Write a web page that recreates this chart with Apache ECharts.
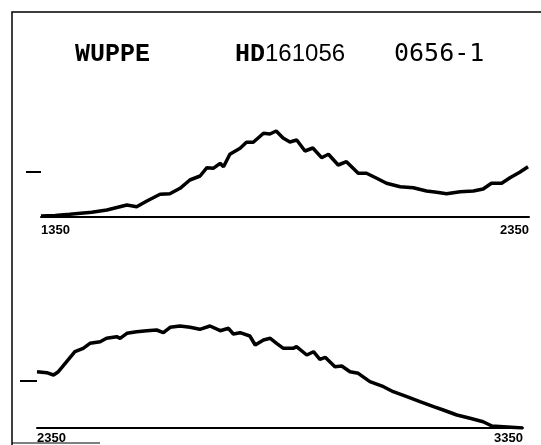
<!DOCTYPE html>
<html>
<head>
<meta charset="utf-8">
<script src="https://cdn.jsdelivr.net/npm/echarts@6/dist/echarts.min.js"></script>
<style>
  html, body { margin: 0; padding: 0; background: #fff; }
  #chart { width: 541px; height: 445px; }
</style>
</head>
<body>
<div id="chart"></div>
<script>
// 上图 1350-2350
let topX = [1350, 1379, 1409, 1454, 1485, 1526, 1546, 1567, 1594, 1614, 1635, 1655, 1676, 1690, 1703, 1717, 1724,
    1737, 1758, 1771, 1785, 1806, 1819, 1832, 1846, 1860, 1874, 1891, 1907, 1925, 1939, 1959, 1976, 2000, 2017,
    2038, 2058, 2086, 2113, 2140, 2161, 2181, 2209, 2236, 2256, 2273, 2294, 2311, 2331, 2348];
let topY = [1, 1.5, 2.7, 4.7, 7, 12, 10.3, 16, 22.7, 23.3, 28.7, 37, 41, 49.3, 48.7, 53.7, 50.3,
    62.7, 68.7, 74.7, 74.7, 83.7, 83, 86, 79, 75, 77, 66, 69, 59.3, 62.7, 52, 55.3, 43.7, 43.7,
    38.7, 33.7, 30.3, 29.3, 26, 24.7, 23.3, 25.3, 26, 28, 33.7, 33.7, 39.3, 44.7, 50.3];
// 下图 2350-3350
let botX = [2350, 2370, 2384, 2394, 2411, 2428, 2445, 2459, 2480, 2493, 2514, 2521, 2535, 2555, 2576, 2596, 2610,
    2624, 2644, 2665, 2685, 2706, 2727, 2744, 2754, 2768, 2788, 2799, 2816, 2830, 2843, 2857, 2877, 2884, 2905,
    2919, 2932, 2943, 2963, 2977, 2994, 3011, 3035, 3063, 3083, 3111, 3138, 3166, 3186, 3214, 3241, 3268, 3286,
    3290, 3350];
let botY = [56.3, 55.3, 53, 56.3, 66.3, 76.3, 79.7, 84.7, 86.3, 89.7, 91.3, 89.7, 94.7, 96.3, 97.3, 98, 95.3,
    100.7, 102, 100.7, 98.7, 102, 97.3, 99.7, 94, 95.3, 92, 83, 88, 89.7, 84.7, 79.7, 79.7, 81.3, 73,
    76.3, 68.7, 70.7, 61.3, 62, 56.3, 54.7, 46.3, 41.3, 36.3, 31.3, 26.3, 21.3, 18, 13, 9.7, 6.3, 2,
    0, 0];
let topTicks = [1350, 2350];
let botTicks = [2350, 3350];
let topMark = [45];
let botMark = [47];

function pairs(xs, ys) {
    return xs.map((v, i) => [v, ys[i]]);
}

let myChart = echarts.init(document.getElementById('chart'));

let xBase = {
    type: 'value',
    axisLine: { lineStyle: { color: '#000', width: 2 } },
    axisTick: { show: false },
    splitLine: { show: false },
    axisLabel: {
        color: '#000',
        fontFamily: 'Liberation Sans',
        fontWeight: 'bold',
        fontSize: 13,
        alignMinLabel: 'left',
        alignMaxLabel: 'right',
        formatter: function (v) { return String(v); } // 不要千分位逗号
    }
};

let option = {
    backgroundColor: '#fff',
    animation: false,
    title: [
        {
            text: 'WUPPE',
            left: 70, top: 37,
            textStyle: { fontFamily: 'Liberation Mono', fontWeight: 'bold', fontSize: 25, color: '#000' }
        },
        {
            text: '{a|HD}{b|161056}',
            left: 230, top: 37,
            textStyle: {
                rich: {
                    a: { fontFamily: 'Liberation Mono', fontWeight: 'bold', fontSize: 25, color: '#000' },
                    b: { fontFamily: 'Liberation Sans', fontWeight: 'normal', fontSize: 24, color: '#000' }
                }
            }
        },
        {
            text: '0656-1',
            left: 389, top: 37,
            textStyle: { fontFamily: 'DejaVu Sans Mono', fontWeight: 'normal', fontSize: 25, color: '#000' }
        }
    ],
    graphic: [
        {
            // 外框
            type: 'rect',
            shape: { x: 12, y: 12, width: 540, height: 440 },
            style: { fill: 'none', stroke: '#000', lineWidth: 1.5 }
        },
        {
            type: 'line',
            shape: { x1: 12, y1: 443, x2: 100, y2: 443 },
            style: { stroke: '#000', lineWidth: 1 }
        }
    ],
    grid: [
        { left: 41, right: 12, top: 117, height: 100 },
        { left: 37, right: 18, top: 308, height: 120 }
    ],
    xAxis: [
        Object.assign({}, xBase, {
            gridIndex: 0, min: 1350, max: 2350,
            axisLabel: Object.assign({}, xBase.axisLabel, { margin: 7, customValues: topTicks })
        }),
        Object.assign({}, xBase, {
            gridIndex: 1, min: 2350, max: 3350,
            axisLabel: Object.assign({}, xBase.axisLabel, { margin: 4, customValues: botTicks })
        })
    ],
    yAxis: [
        {
            type: 'value', gridIndex: 0, min: 0, max: 100,
            axisLine: { show: false },
            splitLine: { show: false },
            axisLabel: { show: false },
            axisTick: { show: true, length: 15, customValues: topMark, lineStyle: { color: '#000', width: 2 } }
        },
        {
            type: 'value', gridIndex: 1, min: 0, max: 120,
            axisLine: { show: false },
            splitLine: { show: false },
            axisLabel: { show: false },
            axisTick: { show: true, length: 17, customValues: botMark, lineStyle: { color: '#000', width: 2 } }
        }
    ],
    series: [
        {
            type: 'line', xAxisIndex: 0, yAxisIndex: 0,
            data: pairs(topX, topY),
            symbol: 'none',
            lineStyle: { color: '#000', width: 3.5 }
        },
        {
            type: 'line', xAxisIndex: 1, yAxisIndex: 1,
            data: pairs(botX, botY),
            symbol: 'none',
            lineStyle: { color: '#000', width: 3.5 }
        }
    ]
};

myChart.setOption(option);
</script>
</body>
</html>
